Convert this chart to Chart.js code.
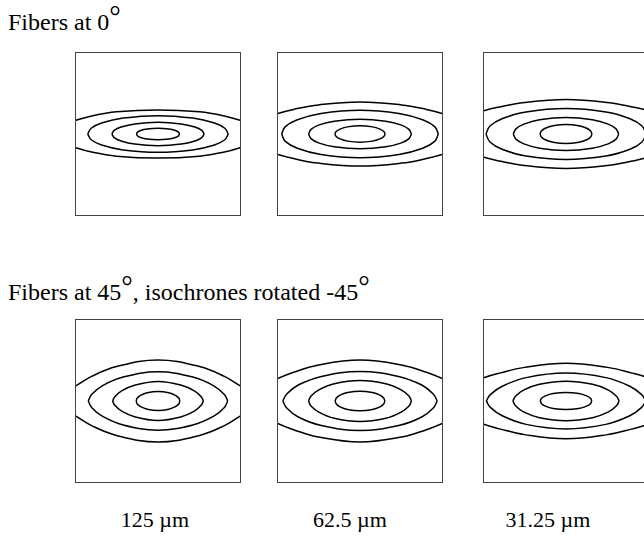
<!DOCTYPE html>
<html>
<head>
<meta charset="utf-8">
<title>Isochrones</title>
<script src="https://cdn.jsdelivr.net/npm/chart.js@4.4.0/dist/chart.umd.min.js"></script>
<style>
  html, body { margin: 0; padding: 0; width: 644px; height: 537px; overflow: hidden; background: #fff; }
  body { position: relative; font-family: "Liberation Serif", "Times New Roman", serif; color: #000; }
  .title { position: absolute; left: 8px; font-size: 24px; line-height: 24px; white-space: nowrap; }
  .deg { position: relative; top: -4px; font-size: 1.2em; line-height: 0; }
  .res { position: absolute; font-size: 22px; line-height: 22px; white-space: nowrap; transform: translateX(-50%); }
  canvas { position: absolute; }
</style>
</head>
<body>
<div class="title" id="title-0" style="top:10px"></div>
<div class="title" id="title-1" style="top:280px"></div>
<div id="panels"></div>
<div class="res" id="res-0" style="left:155px;top:509px"></div>
<div class="res" id="res-1" style="left:350px;top:509px"></div>
<div class="res" id="res-2" style="left:548px;top:509px"></div>

<script>
const rowTitles = ["Fibers at 0°", "Fibers at 45°, isochrones rotated -45°"];
const gridLabels = ["125 µm", "62.5 µm", "31.25 µm"];

// Isochrones: upper-right quarter of each curve, [x, y], panel spans -1..1.
// Curves are mirrored about both axes when drawn.
const fib0_125 = [
  [[0, .071], [.13, .062], [.21, .043], [.247, .022], [.26, 0]],
  [[0, .142], [.28, .123], [.445, .085], [.528, .044], [.556, 0]],
  [[0, .224], [.42, .194], [.68, .134], [.805, .07], [.847, 0]],
  [[0, .293], [.5, .27], [.8, .22], [1, .163], [1.2, .09]],
];
const fib0_62 = [
  [[0, .10], [.15, .087], [.24, .06], [.287, .031], [.302, 0]],
  [[0, .18], [.31, .156], [.5, .108], [.59, .056], [.62, 0]],
  [[0, .29], [.47, .251], [.755, .174], [.9, .09], [.944, 0]],
  [[0, .39], [.5, .355], [.8, .3], [1, .248], [1.2, .17]],
];
const fib0_31 = [
  [[0, .116], [.156, .1], [.25, .07], [.297, .036], [.313, 0]],
  [[0, .20], [.318, .173], [.508, .12], [.603, .062], [.635, 0]],
  [[0, .31], [.482, .268], [.771, .186], [.916, .097], [.964, 0]],
  [[0, .42], [.5, .385], [.8, .33], [1, .28], [1.2, .2]],
];
const fib45_125 = [
  [[0, .115], [.13, .1], [.21, .069], [.25, .036], [.263, 0]],
  [[0, .237], [.274, .194], [.438, .123], [.52, .052], [.547, 0]],
  [[0, .356], [.42, .292], [.672, .185], [.8, .078], [.84, 0]],
  [[0, .50], [.5, .42], [.8, .3], [1, .18], [1.2, .07]],
];
const fib45_62 = [
  [[0, .12], [.15, .104], [.24, .072], [.285, .037], [.30, 0]],
  [[0, .25], [.31, .21], [.496, .135], [.59, .06], [.62, 0]],
  [[0, .36], [.465, .3], [.744, .195], [.883, .085], [.93, 0]],
  [[0, .50], [.5, .44], [.8, .35], [1, .27], [1.2, .17]],
];
const fib45_31 = [
  [[0, .105], [.155, .091], [.248, .063], [.295, .033], [.31, 0]],
  [[0, .24], [.32, .203], [.512, .133], [.608, .058], [.64, 0]],
  [[0, .34], [.48, .285], [.768, .18], [.912, .078], [.96, 0]],
  [[0, .46], [.5, .41], [.8, .34], [1, .28], [1.2, .19]],
];

const panelData = [
  [fib0_125, fib0_62, fib0_31],
  [fib45_125, fib45_62, fib45_31],
];

// layout of the boxes (px)
const boxLeft = [75, 277, 483];
const boxTop = [52, 319];
const boxW = 166, boxH = 164, pad = 4;

// titles & labels
const withDeg = (s) => s.replace(/°/g, '<span class="deg">°</span>');
rowTitles.forEach((t, i) => { document.getElementById("title-" + i).innerHTML = withDeg(t); });
gridLabels.forEach((t, i) => { document.getElementById("res-" + i).textContent = t; });

// one half of a curve, left tip -> right tip, above (sign 1) or below (sign -1)
function halfCurve(quarter, sign) {
  const pts = [];
  for (let i = quarter.length - 1; i >= 0; i--) pts.push({ x: -quarter[i][0], y: sign * quarter[i][1] });
  for (let i = 1; i < quarter.length; i++) pts.push({ x: quarter[i][0], y: sign * quarter[i][1] });
  return pts;
}

const frame = {
  id: "frame",
  afterDraw(chart) {
    const { ctx, chartArea: a } = chart;
    ctx.save();
    ctx.strokeStyle = "#444";
    ctx.lineWidth = 1;
    ctx.strokeRect(a.left + 0.5, a.top + 0.5, a.right - a.left - 1, a.bottom - a.top - 1);
    ctx.restore();
  },
};

const host = document.getElementById("panels");

panelData.forEach((row, r) => {
  row.forEach((curves, c) => {
    const cv = document.createElement("canvas");
    cv.width = boxW + pad * 2;
    cv.height = boxH + pad * 2;
    cv.style.left = (boxLeft[c] - pad) + "px";
    cv.style.top = (boxTop[r] - pad) + "px";
    host.appendChild(cv);

    const datasets = [];
    curves.forEach((q) => {
      [1, -1].forEach((sign) => {
        datasets.push({
          data: halfCurve(q, sign),
          showLine: true,
          borderColor: "#000",
          borderWidth: 1.5,
          pointRadius: 0,
          tension: 0.4,
          clip: 0,
        });
      });
    });

    new Chart(cv, {
      type: "scatter",
      data: { datasets },
      options: {
        responsive: false,
        animation: false,
        events: [],
        layout: { padding: pad },
        elements: { line: { capBezierPoints: false } },
        plugins: { legend: { display: false }, tooltip: { enabled: false } },
        scales: {
          x: { type: "linear", min: -1, max: 1, display: false },
          y: { type: "linear", min: -1, max: 1, display: false },
        },
      },
      plugins: [frame],
    });
  });
});
</script>
</body>
</html>
